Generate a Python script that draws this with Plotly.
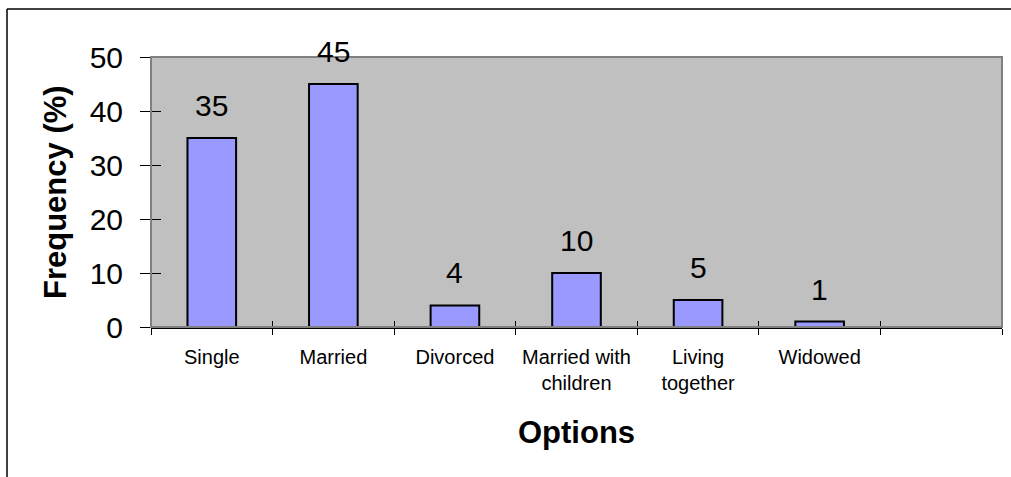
import plotly.graph_objects as go

categories = ["Single", "Married", "Divorced", "Married with<br>children",
              "Living<br>together", "Widowed", " "]
frequency = [35, 45, 4, 10, 5, 1, None]
y_ticks = [0, 10, 20, 30, 40, 50]

W, H = 1011, 477
ML, MR, MT, MB = 151, 9, 57, 150
PW, PH = W - ML - MR, H - MT - MB
FONT = "Liberation Sans, Arial, sans-serif"

fig = go.Figure()
fig.add_trace(go.Bar(
    x=categories, y=frequency,
    marker=dict(color="#9999FF", line=dict(color="black", width=2)),
    width=0.4, hoverinfo="skip", showlegend=False,
))
# invisible companion trace so the overlay axes (for crossing ticks) render
fig.add_trace(go.Scatter(
    x=categories, y=frequency, xaxis="x2", yaxis="y2", mode="markers",
    marker=dict(opacity=0), hoverinfo="skip", showlegend=False,
))

# data labels
for c, v in zip(categories, frequency):
    if v is None:
        continue
    fig.add_annotation(x=c, y=v, xref="x", yref="y", text=str(v),
                       showarrow=False, yanchor="bottom", yshift=14,
                       font=dict(family=FONT, size=30, color="black"))

# axis titles
fig.add_annotation(x=0.5, y=0, xref="paper", yref="paper", text="<b>Options</b>",
                   showarrow=False, xanchor="center", yanchor="middle", yshift=-105,
                   font=dict(family=FONT, size=31, color="black"))
fig.add_annotation(x=0, y=0.5, xref="paper", yref="paper", text="<b>Frequency (%)</b>",
                   showarrow=False, textangle=-90, xanchor="center", yanchor="middle",
                   xshift=-96, font=dict(family=FONT, size=31, color="black"))

# plot-area border (gray) and outer chart frame (partially visible)
fig.add_shape(type="rect", xref="paper", yref="paper", x0=0, x1=1, y0=0, y1=1,
              line=dict(color="#808080", width=2), layer="above")
fx = (7 - ML) / PW
fy = 1 + (MT - 9) / PH
fig.add_shape(type="line", xref="paper", yref="paper", x0=fx, x1=fx, y0=-1, y1=fy,
              line=dict(color="black", width=1.5))
fig.add_shape(type="line", xref="paper", yref="paper", x0=fx, x1=2, y0=fy, y1=fy,
              line=dict(color="black", width=1.5))

fig.update_layout(
    width=W, height=H,
    margin=dict(l=ML, r=MR, t=MT, b=MB, pad=0),
    paper_bgcolor="white", plot_bgcolor="#C0C0C0",
    font=dict(family=FONT, color="black"),
    bargap=0.6,
    xaxis=dict(type="category", categoryorder="array", categoryarray=categories,
               range=[-0.5, len(categories) - 0.5], tickson="boundaries",
               ticks="outside", ticklen=6, tickcolor="black", tickwidth=1,
               showline=True, linecolor="black", linewidth=1.5,
               showgrid=False, zeroline=False, ticklabelstandoff=11,
               tickfont=dict(family=FONT, size=20, color="black")),
    yaxis=dict(range=[0, 50], tickvals=y_ticks, ticks="outside", ticklen=10,
               tickcolor="black", tickwidth=1, showline=False, showgrid=False,
               zeroline=False, ticklabelstandoff=11,
               tickfont=dict(family=FONT, size=30, color="black")),
    xaxis2=dict(type="category", categoryorder="array", categoryarray=categories,
                overlaying="x", side="bottom", anchor="y2",
                range=[-0.5, len(categories) - 0.5], tickson="boundaries",
                ticks="inside", ticklen=6, tickcolor="black", tickwidth=1,
                showticklabels=False, showgrid=False, zeroline=False, showline=False),
    yaxis2=dict(overlaying="y", side="left", anchor="x2", range=[0, 50],
                tickvals=y_ticks, ticks="inside", ticklen=10, tickcolor="black",
                tickwidth=1, showticklabels=False, showgrid=False, zeroline=False,
                showline=False),
)

fig.write_html("out.html",
               config={"displayModeBar": False, "staticPlot": True},
               post_script="document.body.style.margin='0';"
                           "document.body.style.overflow='hidden';")
